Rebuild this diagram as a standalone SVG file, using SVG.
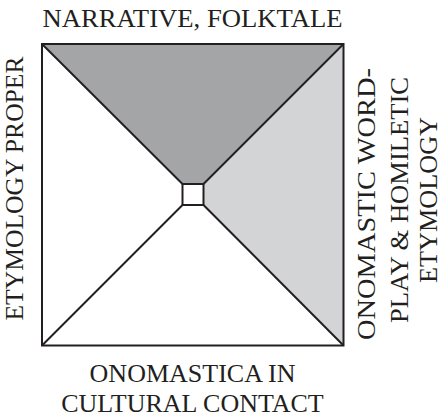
<svg xmlns="http://www.w3.org/2000/svg" width="444" height="418" viewBox="0 0 444 418">
<style>
.lbl{font-family:"Liberation Serif","Times New Roman",serif;font-size:26px;fill:#231f20;text-anchor:middle}
.ln{stroke:#231f20;stroke-width:2;fill:none;stroke-linejoin:miter}
</style>
<rect width="444" height="418" fill="#ffffff"/>
<g id="top-region"><polygon points="42,44 343.5,44 203.5,184 182.5,184" fill="#a4a5a7"/></g>
<g id="right-region"><polygon points="343.5,44 343.5,345.5 203.5,205 203.5,184" fill="#d3d4d6"/></g>
<g id="frame"><rect x="42" y="44" width="301.5" height="301.5" class="ln"/></g>
<g id="center"><rect x="182.5" y="184" width="21" height="21" fill="#ffffff" class="ln"/></g>
<g id="connectors">
<line x1="42" y1="44" x2="182.5" y2="184" class="ln"/>
<line x1="343.5" y1="44" x2="203.5" y2="184" class="ln"/>
<line x1="42" y1="345.5" x2="182.5" y2="205" class="ln"/>
<line x1="343.5" y1="345.5" x2="203.5" y2="205" class="ln"/>
</g>
<g id="label-top"><text class="lbl" x="192.5" y="27" textLength="300" lengthAdjust="spacingAndGlyphs">NARRATIVE, FOLKTALE</text></g>
<g id="label-left"><text class="lbl" transform="translate(23,188.5) rotate(-90)" textLength="264" lengthAdjust="spacingAndGlyphs">ETYMOLOGY PROPER</text></g>
<g id="label-right"><text class="lbl" transform="translate(375,204) rotate(-90)" textLength="272" lengthAdjust="spacingAndGlyphs">ONOMASTIC WORD-</text>
<text class="lbl" transform="translate(408,200) rotate(-90)" textLength="246" lengthAdjust="spacingAndGlyphs">PLAY &amp; HOMILETIC</text>
<text class="lbl" transform="translate(437,200) rotate(-90)" textLength="166" lengthAdjust="spacingAndGlyphs">ETYMOLOGY</text></g>
<g id="label-bottom"><text class="lbl" x="192.5" y="382">ONOMASTICA IN</text>
<text class="lbl" x="192.5" y="412">CULTURAL CONTACT</text></g>
</svg>
